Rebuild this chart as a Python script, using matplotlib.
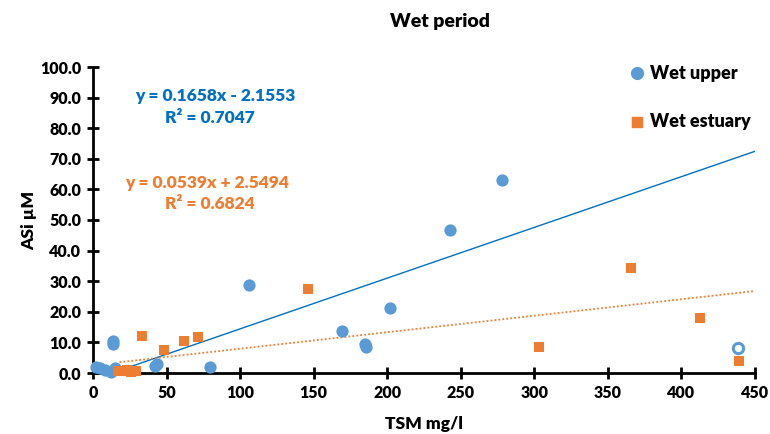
import matplotlib
matplotlib.use("Agg")
import matplotlib.pyplot as plt
import numpy as np

# Wet period: suspended matter (TSM) against amorphous silica (ASi)
upper_tsm = [2, 4.8, 8, 12, 15, 13.4, 13.6, 42, 43.3, 79.5, 106, 169, 185, 185.5, 202, 243, 278]
upper_asi = [1.8, 1.6, 1.0, 0.3, 1.6, 10.6, 9.5, 2.3, 3.0, 2.0, 28.8, 13.7, 9.6, 8.6, 21.2, 46.7, 63.0]
upper_outlier_tsm = [438.5]
upper_outlier_asi = [8.2]

estuary_tsm = [17, 20, 23, 26, 29, 33.3, 48.3, 62, 71.4, 146, 303, 366, 412.6, 439]
estuary_asi = [0.8, 0.5, 1.0, 0.4, 0.6, 12.1, 7.5, 10.5, 11.8, 27.5, 8.6, 34.3, 18.0, 3.9]

# Linear trend coefficients (slope, intercept) and fit ranges
upper_fit = (0.1658, -2.1553)
upper_r2 = 0.7047
upper_fit_range = (13.5, 450)
estuary_fit = (0.0539, 2.5494)
estuary_r2 = 0.6824
estuary_fit_range = (18, 450)

x_ticks = list(range(0, 451, 50))
y_ticks = list(range(0, 101, 10))

blue = "#5B9BD5"
blue_text = "#0070C0"
orange = "#ED7D31"
W = "heavy"

plt.rcParams["font.family"] = ["Lato", "DejaVu Sans"]
plt.rcParams["font.weight"] = W

fig = plt.figure(figsize=(7.7, 4.34), dpi=100)
ax = fig.add_axes([93 / 770, 1 - 373 / 434, (755 - 93) / 770, (373 - 67) / 434])

# trend lines
xu = np.linspace(*upper_fit_range, 50)
ax.plot(xu, upper_fit[0] * xu + upper_fit[1], color=blue_text, lw=1.0, zorder=2)
xe = np.linspace(*estuary_fit_range, 50)
ax.plot(xe, estuary_fit[0] * xe + estuary_fit[1], color=orange, lw=1.3,
        linestyle=(0, (1, 1.2)), zorder=2)

ax.scatter(upper_tsm, upper_asi, s=78, color=blue, marker="o", linewidths=0,
           zorder=3, clip_on=False)
ax.scatter(upper_outlier_tsm, upper_outlier_asi, s=55, facecolor="white",
           edgecolor=blue, linewidths=2.2, marker="o", zorder=3, clip_on=False)
ax.scatter(estuary_tsm, estuary_asi, s=55, color=orange, marker="s", linewidths=0,
           zorder=3, clip_on=False)

ax.set_xlim(0, 450)
ax.set_ylim(0, 100)
ax.set_xticks(x_ticks)
ax.set_yticks(y_ticks)
ax.set_yticklabels([f"{v:.1f}" for v in y_ticks])
for s in ("top", "right"):
    ax.spines[s].set_visible(False)
for s in ("left", "bottom"):
    ax.spines[s].set_linewidth(2.0)
ax.tick_params(direction="inout", length=9, width=2.0, labelsize=11.5, pad=4)
for lab in ax.get_xticklabels() + ax.get_yticklabels():
    lab.set_fontweight(W)

ax.set_xlabel("TSM mg/l", fontsize=12.5, fontweight=W, labelpad=11)
ax.set_ylabel("ASi µM", fontsize=12.5, fontweight=W, labelpad=2)

fig.text(440 / 770, 1 - 22 / 434, "Wet period", ha="center", va="center",
         fontsize=14, fontweight=W)

# trend equations
eq_size = 12.5
fig.text(215 / 770, 1 - 96 / 434,
         f"y = {upper_fit[0]:.4f}x - {abs(upper_fit[1]):.4f}",
         ha="center", va="center", color=blue_text, fontsize=eq_size, fontweight=W)
fig.text(210 / 770, 1 - 118 / 434, f"R² = {upper_r2:.4f}",
         ha="center", va="center", color=blue_text, fontsize=eq_size, fontweight=W)
fig.text(207 / 770, 1 - 183 / 434,
         f"y = {estuary_fit[0]:.4f}x + {estuary_fit[1]:.4f}",
         ha="center", va="center", color=orange, fontsize=eq_size, fontweight=W)
fig.text(210 / 770, 1 - 204 / 434, f"R² = {estuary_r2:.4f}",
         ha="center", va="center", color=orange, fontsize=eq_size, fontweight=W)

# legend
fig.add_artist(plt.Line2D([637 / 770], [1 - 73 / 434], marker="o", markersize=8.5,
                          color=blue, linestyle="none", transform=fig.transFigure))
fig.text(650 / 770, 1 - 73 / 434, "Wet upper", ha="left", va="center",
         fontsize=13, fontweight=W)
fig.add_artist(plt.Line2D([637 / 770], [1 - 122 / 434], marker="s", markersize=7,
                          color=orange, linestyle="none", transform=fig.transFigure))
fig.text(650 / 770, 1 - 122 / 434, "Wet estuary", ha="left", va="center",
         fontsize=13, fontweight=W)

fig.savefig("out.png", dpi=100)
